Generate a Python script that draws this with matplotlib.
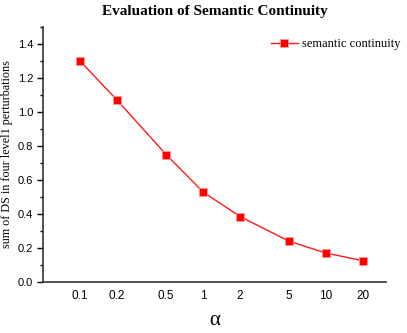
import matplotlib
matplotlib.use('Agg')
import matplotlib.pyplot as plt
from matplotlib.ticker import FixedLocator, MultipleLocator, NullLocator, FormatStrFormatter

# 数据
alpha = [0.1, 0.2, 0.5, 1, 2, 5, 10, 20]
alpha_labels = ['0.1', '0.2', '0.5', '1', '2', '5', '10', '20']
ds_sum = [1.30, 1.07, 0.75, 0.53, 0.385, 0.24, 0.17, 0.125]

fig = plt.figure(figsize=(4.07, 3.33), dpi=100)
ax = fig.add_axes([43 / 407, 51 / 333, 343 / 407, 255 / 333])

ax.plot(alpha, ds_sum, color='#ff1a1a', lw=1, marker='s', markersize=6,
        markerfacecolor='#ff0000', markeredgecolor='#ff9999', markeredgewidth=0.6,
        label='semantic continuity')

ax.set_xscale('log')
ax.set_xlim(0.05, 30.7)
ax.set_ylim(0, 1.5)
ax.xaxis.set_major_locator(FixedLocator(alpha))
ax.xaxis.set_minor_locator(NullLocator())
ax.set_xticklabels(alpha_labels)
ax.yaxis.set_major_locator(FixedLocator([0, 0.2, 0.4, 0.6, 0.8, 1.0, 1.2, 1.4]))
ax.yaxis.set_minor_locator(MultipleLocator(0.1))
ax.yaxis.set_major_formatter(FormatStrFormatter('%.1f'))

for s in ['top', 'right']:
    ax.spines[s].set_visible(False)
for s in ['left', 'bottom']:
    ax.spines[s].set_linewidth(1.2)
    ax.spines[s].set_color('#333333')

ax.tick_params(axis='x', length=0, pad=6, labelsize=8.5)
ax.tick_params(axis='y', which='major', length=4, width=1, direction='out', labelsize=8, pad=3)
ax.tick_params(axis='y', which='minor', length=2.5, width=1, direction='out')
for lbl in ax.get_xticklabels() + ax.get_yticklabels():
    lbl.set_family('Liberation Sans')

ax.set_xlabel('α', fontsize=15, family='Liberation Serif', labelpad=6)
ax.set_ylabel('sum of DS in four level1 perturbations', fontsize=8.7, family='Liberation Serif')
ax.yaxis.set_label_coords(-0.088, 0.5)
fig.text((43 + 386) / 2 / 407, 0.985, 'Evaluation of Semantic Continuity', ha='center', va='top',
         fontsize=11, fontweight='bold', family='Liberation Serif')

leg = ax.legend(loc='upper right', bbox_to_anchor=(1.075, 1.0), frameon=False,
                prop={'family': 'Liberation Serif', 'size': 9}, handlelength=2.2,
                handletextpad=0.3)

fig.savefig('out.png', dpi=100)
